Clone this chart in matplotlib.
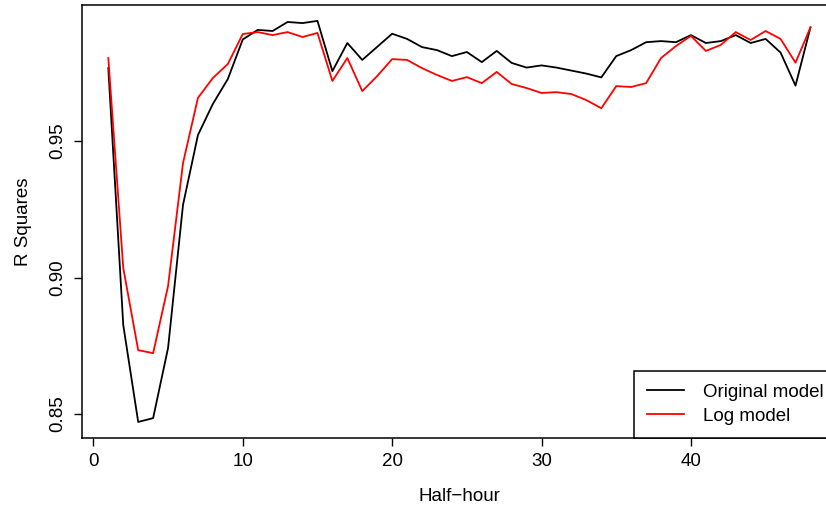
import matplotlib
matplotlib.use("Agg")
import numpy as np
from matplotlib import pyplot as plt

matplotlib.rcParams.update({'font.size': 13.5, 'font.family': 'Liberation Sans'})

## Data
half_hour = np.arange(1, 49)

original_model = [0.9767, 0.8826, 0.8471, 0.8485, 0.8742, 0.9266, 0.9522, 0.9636, 0.9727, 0.9872,
                  0.9907, 0.9903, 0.9936, 0.9932, 0.9940, 0.9756, 0.9859, 0.9797, 0.9845, 0.9893,
                  0.9874, 0.9844, 0.9833, 0.9811, 0.9826, 0.9789, 0.9830, 0.9786, 0.9769, 0.9777,
                  0.9769, 0.9758, 0.9747, 0.9733, 0.9811, 0.9833, 0.9862, 0.9866, 0.9862, 0.9888,
                  0.9859, 0.9866, 0.9888, 0.9859, 0.9874, 0.9824, 0.9703, 0.9916]

log_model = [0.9804, 0.9035, 0.8734, 0.8723, 0.8969, 0.9419, 0.9658, 0.9731, 0.9782, 0.9892,
             0.9899, 0.9888, 0.9899, 0.9881, 0.9896, 0.9720, 0.9804, 0.9683, 0.9738, 0.9800,
             0.9797, 0.9767, 0.9742, 0.9720, 0.9734, 0.9712, 0.9753, 0.9709, 0.9694, 0.9676,
             0.9679, 0.9672, 0.9650, 0.9620, 0.9701, 0.9698, 0.9712, 0.9804, 0.9848, 0.9885,
             0.9830, 0.9852, 0.9899, 0.9870, 0.9903, 0.9874, 0.9787, 0.9916]

x_ticks = [0, 10, 20, 30, 40]
y_ticks = [0.85, 0.90, 0.95]

## Figure
fig = plt.figure(figsize=(8.26, 5.11), dpi=100)
ax = fig.add_axes([0.0993, 0.1434, 0.9137, 0.8468])

ax.plot(half_hour, original_model, color='black', lw=1.3, label='Original model')
ax.plot(half_hour, log_model, color='red', lw=1.3, label='Log model')

ax.set(xlim=(-0.76, 49.76), ylim=(0.84132, 0.99982))
ax.set_xticks(x_ticks)
ax.set_yticks(y_ticks)
ax.set_yticklabels(["%.2f" % v for v in y_ticks], rotation=90, va='center')
ax.tick_params(direction='out', length=6, width=1, pad=5)
for s in ax.spines.values():
    s.set_linewidth(1.1)

ax.set_xlabel("Half\u2212hour", labelpad=13)
ax.set_ylabel("R Squares", labelpad=13)

leg = ax.legend(loc='lower right', bbox_to_anchor=(1, 0), borderaxespad=0,
                fancybox=False, framealpha=1, edgecolor='black',
                handlelength=2.0, handletextpad=1.0, borderpad=0.7, labelspacing=0.35)
leg.get_frame().set_linewidth(1.1)

fig.savefig("out.png", dpi=100)
